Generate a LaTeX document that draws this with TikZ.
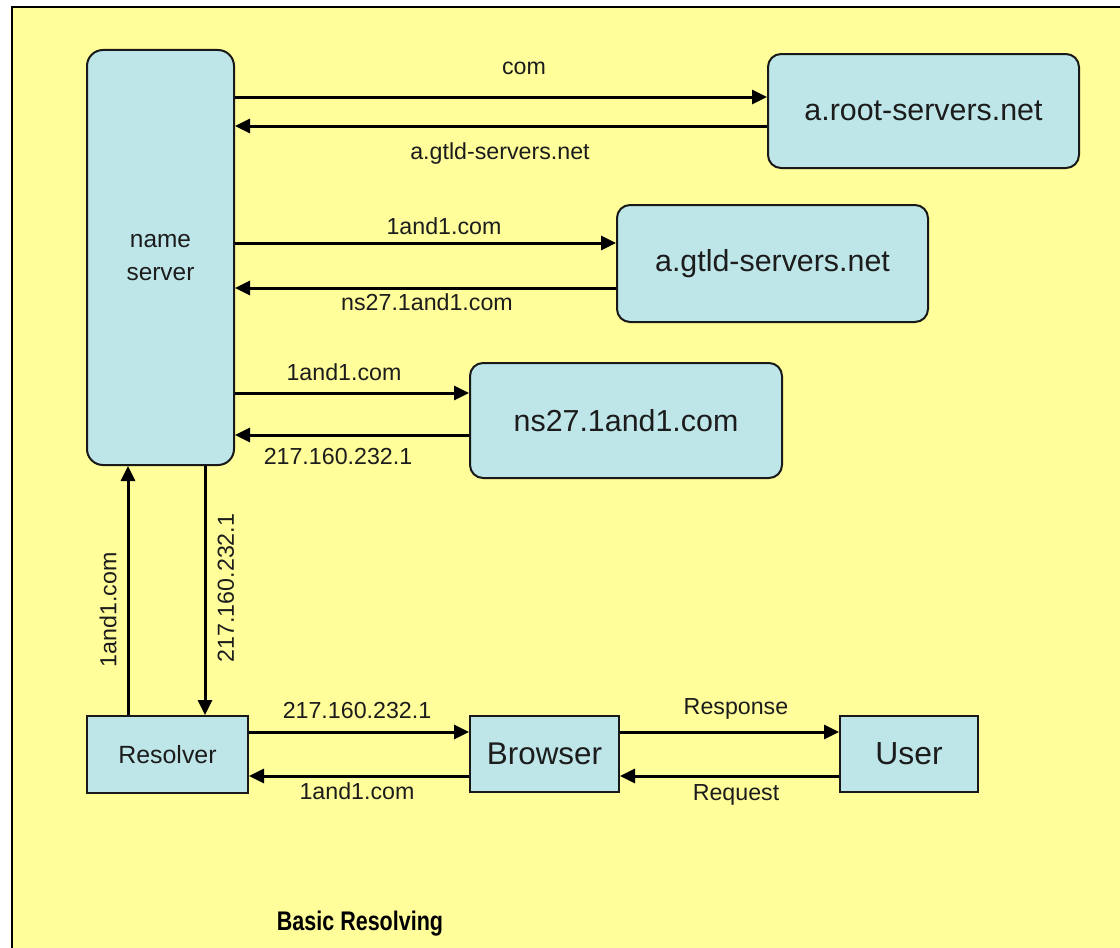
\documentclass[tikz,border=0pt]{standalone}
\usepackage{fontspec}
\setmainfont{Liberation Sans}
\usetikzlibrary{arrows.meta}
\definecolor{bgyellow}{RGB}{255,254,155}
\definecolor{boxfill}{RGB}{190,230,232}
\definecolor{txt}{RGB}{28,28,28}
\tikzset{
  box/.style={draw=black!90, fill=boxfill, line width=2bp, inner sep=0pt, text=txt},
  rbox/.style={box, rounded corners=13bp},
  bigtxt/.style={font=\fontsize{30.5}{34}\selectfont},
  midtxt/.style={font=\fontsize{25}{29}\selectfont},
  lbl/.style={text=txt, inner sep=0pt, font=\fontsize{23.3}{27}\selectfont},
  arr/.style={line width=3bp, draw=black, -{Triangle[length=15bp,width=14bp]}}
}
\begin{document}
\begin{tikzpicture}[x=1bp,y=-1bp]
\useasboundingbox (0,0) rectangle (1120,948);
\fill[white] (0,0) rectangle (1120,948);
\fill[bgyellow] (12,7) rectangle (1120,948);
\draw[line width=2bp, black] (12,948) -- (12,7) -- (1120,7);

% nodes
\node[rbox, rounded corners=16bp, minimum width=147bp, minimum height=415bp, align=center, font=\fontsize{24.5}{34}\selectfont] (ns) at (160.5,257.5) {name\\server};
\node[rbox, bigtxt, minimum width=311bp, minimum height=114bp] (root) at (923.5,111) {a.root-servers.net};
\node[rbox, bigtxt, minimum width=311bp, minimum height=117bp] (gtld) at (772.5,263.5) {a.gtld-servers.net};
\node[rbox, bigtxt, minimum width=312bp, minimum height=115bp] (ns27) at (626,420.5) {ns27.1and1.com};
\node[box, midtxt, minimum width=161bp, minimum height=77bp] (res) at (167.5,754.5) {Resolver};
\node[box, bigtxt, font=\fontsize{31.5}{35}\selectfont, minimum width=149bp, minimum height=76bp] (br) at (544.5,754) {Browser};
\node[box, bigtxt, font=\fontsize{32}{35}\selectfont, minimum width=138bp, minimum height=76bp] (usr) at (909,754) {User};

% helper coordinates
\coordinate (y1) at (0,97);
\coordinate (y2) at (0,126);
\coordinate (y3) at (0,243);
\coordinate (y4) at (0,288);
\coordinate (y5) at (0,393);
\coordinate (y6) at (0,435);
\coordinate (y7) at (0,732);
\coordinate (y8) at (0,776);
\coordinate (x1) at (128,0);
\coordinate (x2) at (205,0);

% connectors
\draw[arr] (ns.east |- y1) -- (root.west |- y1);
\draw[arr] (root.west |- y2) -- (ns.east |- y2);
\draw[arr] (ns.east |- y3) -- (gtld.west |- y3);
\draw[arr] (gtld.west |- y4) -- (ns.east |- y4);
\draw[arr] (ns.east |- y5) -- (ns27.west |- y5);
\draw[arr] (ns27.west |- y6) -- (ns.east |- y6);
\draw[arr] (x1 |- res.north) -- (x1 |- ns.south);
\draw[arr] (x2 |- ns.south) -- (x2 |- res.north);
\draw[arr] (res.east |- y7) -- (br.west |- y7);
\draw[arr] (br.west |- y8) -- (res.east |- y8);
\draw[arr] (br.east |- y7) -- (usr.west |- y7);
\draw[arr] (usr.west |- y8) -- (br.east |- y8);

% labels
\node[lbl] (l1) at (524,68) {com};
\node[lbl] (l2) at (500,153) {a.gtld-servers.net};
\node[lbl] (l3) at (444,226) {1and1.com};
\node[lbl] (l4) at (427,302) {ns27.1and1.com};
\node[lbl] (l5) at (344,372) {1and1.com};
\node[lbl] (l6) at (338,457) {217.160.232.1};
\node[lbl, rotate=90] (l7) at (108,610) {1and1.com};
\node[lbl, rotate=90] (l8) at (226,588) {217.160.232.1};
\node[lbl] (l9) at (357,711) {217.160.232.1};
\node[lbl] (l10) at (357,791) {1and1.com};
\node[lbl] (l11) at (736,709) {Response};
\node[lbl] (l12) at (736,795) {Request};
\node[text=black, inner sep=0pt, font=\bfseries\fontsize{27}{31}\selectfont, xscale=0.8, transform shape] (title) at (360,924) {Basic Resolving};
\end{tikzpicture}
\end{document}
